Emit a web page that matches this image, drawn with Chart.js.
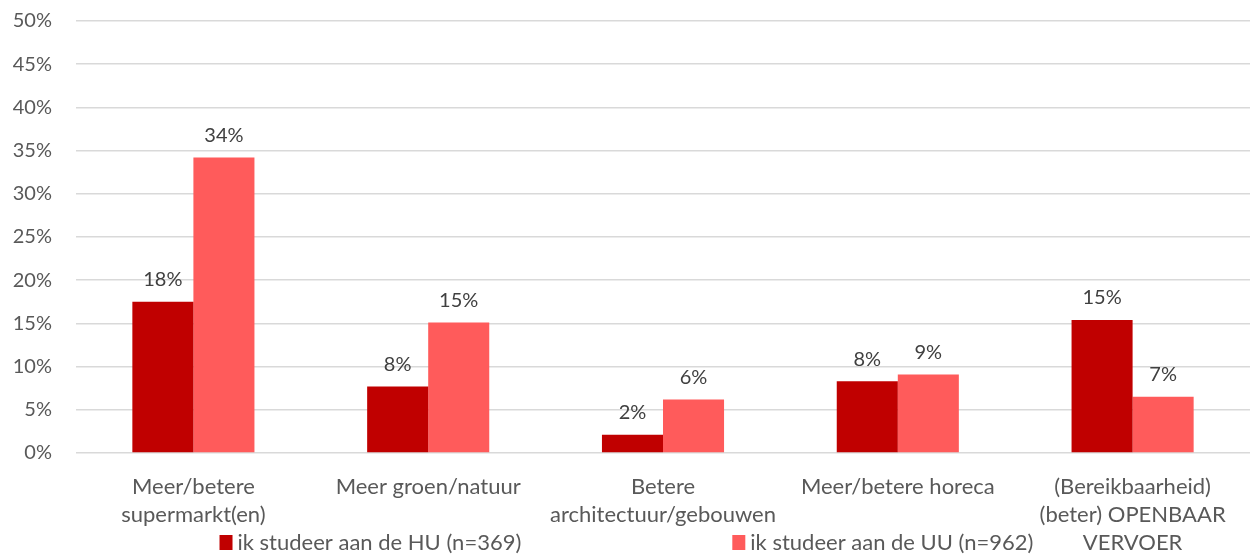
<!DOCTYPE html>
<html>
<head>
<meta charset="utf-8">
<script src="https://cdn.jsdelivr.net/npm/chart.js@4/dist/chart.umd.min.js"></script>
<style>
  html, body { margin: 0; padding: 0; background: #fff; }
  #wrap { width: 1253px; height: 555px; position: relative; }
</style>
</head>
<body>
<div id="wrap"><canvas id="c"></canvas></div>
<script>
const categories = [
  ["Meer/betere", "supermarkt(en)"],
  ["Meer groen/natuur"],
  ["Betere", "architectuur/gebouwen"],
  ["Meer/betere horeca"],
  ["(Bereikbaarheid)", "(beter) OPENBAAR", "VERVOER"]
];
const seriesNames = ["ik studeer aan de HU (n=369)", "ik studeer aan de UU (n=962)"];
const huValues = [17.5, 7.7, 2.1, 8.3, 15.4];
const uuValues = [34.2, 15.1, 6.2, 9.1, 6.5];
const seriesColors = ["#C00000", "#FF5B5B"];
const yTicks = [0, 5, 10, 15, 20, 25, 30, 35, 40, 45, 50];

const FONT = "Lato, 'Open Sans', sans-serif";
const TEXT = "#595959";

const valueLabels = {
  id: "valueLabels",
  afterDatasetsDraw(chart) {
    const ctx = chart.ctx;
    ctx.save();
    ctx.font = "20px " + FONT;
    ctx.fillStyle = "#404040";
    ctx.textAlign = "center";
    ctx.textBaseline = "bottom";
    chart.data.datasets.forEach((ds, i) => {
      chart.getDatasetMeta(i).data.forEach((bar, j) => {
        ctx.fillText(Math.round(ds.data[j]) + "%", bar.x, bar.y - 12);
      });
    });
    ctx.restore();
  }
};

const bottomLegend = {
  id: "bottomLegend",
  afterDraw(chart) {
    const ctx = chart.ctx;
    ctx.save();
    ctx.font = "22px " + FONT;
    ctx.textBaseline = "middle";
    const box = 13, gapText = 5, gapItems = 211;
    const widths = chart.data.datasets.map(ds => box + gapText + ctx.measureText(ds.label).width);
    const total = widths.reduce((a, b) => a + b, 0) + gapItems * (widths.length - 1);
    let x = chart.width / 2 - total / 2;
    const y = 543;
    chart.data.datasets.forEach((ds, i) => {
      ctx.fillStyle = ds.backgroundColor;
      ctx.fillRect(x, y - 8, box, 15);
      ctx.fillStyle = TEXT;
      ctx.textAlign = "left";
      ctx.fillText(ds.label, x + box + gapText, y);
      x += widths[i] + gapItems;
    });
    ctx.restore();
  }
};

new Chart(document.getElementById("c"), {
  type: "bar",
  data: {
    labels: categories,
    datasets: [
      { label: seriesNames[0], data: huValues, backgroundColor: seriesColors[0] },
      { label: seriesNames[1], data: uuValues, backgroundColor: seriesColors[1] }
    ]
  },
  options: {
    responsive: true,
    maintainAspectRatio: false,
    animation: false,
    layout: { padding: { top: 21, right: 3, left: 0, bottom: 0 } },
    datasets: { bar: { categoryPercentage: 0.52, barPercentage: 1.0 } },
    plugins: { legend: { display: false }, tooltip: { enabled: false } },
    scales: {
      x: {
        grid: { display: false, drawTicks: false },
        border: { display: false },
        ticks: {
          color: TEXT,
          font: { family: FONT, size: 22, lineHeight: 1.27 },
          padding: 20,
          maxRotation: 0,
          autoSkip: false
        },
        afterFit(scale) { scale.height = 102; }
      },
      y: {
        min: 0,
        max: 50,
        afterBuildTicks(scale) { scale.ticks = yTicks.map(v => ({ value: v })); },
        grid: { color: "#D9D9D9", lineWidth: 1.5, drawTicks: false },
        border: { display: false },
        ticks: {
          color: TEXT,
          font: { family: FONT, size: 20 },
          padding: 24,
          callback: v => v + "%"
        },
        afterFit(scale) {
          scale.width = 76;
          scale.paddingTop = 0;
          scale.paddingBottom = 0;
        }
      }
    }
  },
  plugins: [valueLabels, bottomLegend]
});
</script>
</body>
</html>
